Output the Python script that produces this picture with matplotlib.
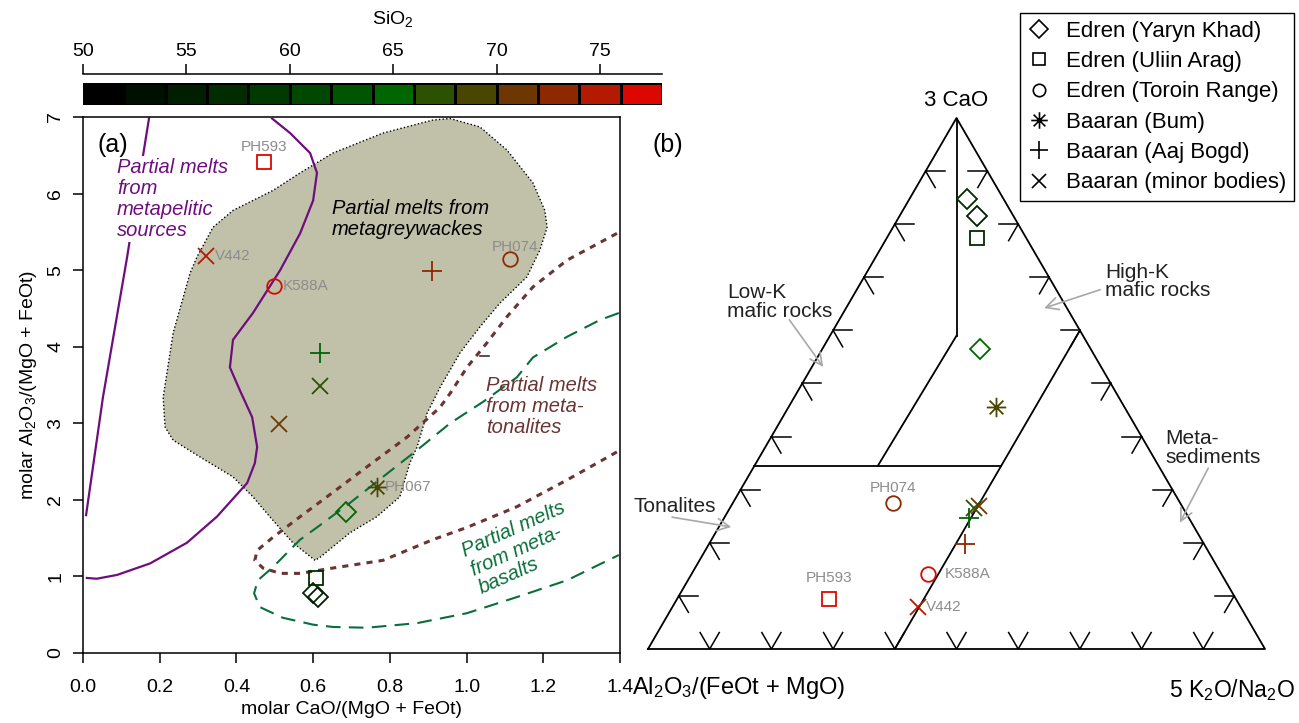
import numpy as np
import matplotlib
matplotlib.use("Agg")
import matplotlib.pyplot as plt
from matplotlib.colors import ListedColormap, BoundaryNorm
from matplotlib.lines import Line2D
from matplotlib.path import Path

plt.rcParams['font.family'] = ['Liberation Sans', 'DejaVu Sans']
plt.rcParams['mathtext.fontset'] = 'custom'
plt.rcParams['mathtext.rm'] = 'Liberation Sans'
plt.rcParams['mathtext.it'] = 'Liberation Sans:italic'
plt.rcParams['mathtext.bf'] = 'Liberation Sans:bold'

# --- SiO2 colour scale (2 wt% steps) ---
sio2_bounds = np.arange(50, 80, 2)
sio2_colors = ['#000000', '#001000', '#001e00', '#002c00', '#003a00', '#004800',
               '#005600', '#006600', '#2a5200', '#484600', '#6e3600', '#8e2800',
               '#b41a00', '#dc0800']
sio2_ticks = [50, 55, 60, 65, 70, 75]

# --- samples ---
group = ['yaryn', 'yaryn', 'uliin', 'yaryn', 'uliin', 'toroin', 'toroin',
         'bum', 'aaj', 'aaj', 'minor', 'minor', 'minor']
name = ['', '', '', '', 'PH593', 'PH074', 'K588A', 'PH067', '', '', '', '', 'V442']
sio2 = [56.5, 55.5, 57.0, 65.0, 77.0, 73.0, 77.0, 69.0, 73.0, 65.0, 67.0, 71.0, 75.0]
# molar CaO/(MgO + FeOt) and molar Al2O3/(MgO + FeOt)
cao_mf = [0.600, 0.613, 0.607, 0.686, 0.472, 1.113, 0.498, 0.766, 0.910, 0.618,
          0.618, 0.511, 0.321]
al_mf = [0.78, 0.73, 0.98, 1.84, 6.41, 5.14, 4.79, 2.17, 4.99, 3.92, 3.49, 2.99, 5.18]
# ternary fractions: Al2O3/(FeOt+MgO), 5 K2O/Na2O, 3 CaO
tern_al = [0.059, 0.060, 0.079, 0.180, 0.660, 0.466, 0.476, 0.208, 0.387, 0.356,
           0.339, 0.329, 0.523]
tern_k = [0.094, 0.125, 0.147, 0.255, 0.246, 0.259, 0.383, 0.336, 0.415, 0.397,
          0.395, 0.402, 0.398]
tern_ca = [0.847, 0.815, 0.774, 0.565, 0.094, 0.275, 0.141, 0.456, 0.198, 0.247,
           0.266, 0.269, 0.079]

group_names = ['yaryn', 'uliin', 'toroin', 'bum', 'aaj', 'minor']
group_labels = ['Edren (Yaryn Khad)', 'Edren (Uliin Arag)', 'Edren (Toroin Range)',
                'Baaran (Bum)', 'Baaran (Aaj Bogd)', 'Baaran (minor bodies)']

# --- source-rock fields, molar CaO/(MgO+FeOt) vs Al2O3/(MgO+FeOt) ---
greywacke_x = [0.605, 0.547, 0.487, 0.443, 0.391, 0.305, 0.235, 0.214, 0.209, 0.235,
               0.279, 0.297, 0.339, 0.391, 0.443, 0.495, 0.566, 0.652, 0.782, 0.912,
               0.957, 1.035, 1.105, 1.173, 1.204, 1.210, 1.191, 1.157, 1.087, 1.035,
               0.983, 0.931, 0.897, 0.871, 0.852, 0.826, 0.766, 0.696, 0.618]
greywacke_y = [1.21, 1.44, 1.78, 2.04, 2.30, 2.56, 2.78, 2.95, 3.34, 4.18,
               4.96, 5.17, 5.56, 5.78, 5.91, 6.04, 6.27, 6.53, 6.79, 6.96,
               6.98, 6.87, 6.57, 6.14, 5.78, 5.56, 5.26, 4.91, 4.57, 4.26,
               3.92, 3.47, 3.13, 2.69, 2.48, 2.04, 1.78, 1.57, 1.25]

pelite_a_x = [0.008, 0.052, 0.115, 0.156, 0.172]
pelite_a_y = [1.80, 3.34, 5.17, 6.48, 6.98]
pelite_b_x = [0.010, 0.036, 0.089, 0.175, 0.271, 0.349, 0.428, 0.448, 0.454, 0.441,
              0.409, 0.383, 0.391, 0.443, 0.514, 0.566, 0.600, 0.610, 0.592, 0.540,
              0.493]
pelite_b_y = [0.98, 0.97, 1.02, 1.17, 1.44, 1.78, 2.22, 2.48, 2.69, 3.08,
              3.43, 3.73, 4.09, 4.44, 5.00, 5.48, 5.91, 6.27, 6.53, 6.79,
              6.98]

tonalite_x = [1.392, 1.262, 1.173, 1.105, 1.053, 1.001, 0.957, 0.931, 0.845, 0.740,
              0.636, 0.566, 0.495, 0.454, 0.448, 0.469, 0.514, 0.566, 0.652, 0.782,
              0.912, 1.001, 1.131, 1.262, 1.397]
tonalite_y = [5.48, 5.13, 4.78, 4.39, 4.05, 3.73, 3.39, 3.21, 2.82, 2.43,
              2.04, 1.78, 1.51, 1.34, 1.21, 1.11, 1.04, 1.04, 1.11, 1.21,
              1.48, 1.64, 1.91, 2.26, 2.64]

basalt_x = [1.397, 1.348, 1.262, 1.173, 1.131, 1.043, 0.957, 0.871, 0.782, 0.696,
            0.610, 0.566, 0.495, 0.456, 0.446, 0.461, 0.521, 0.600, 0.652, 0.740,
            0.871, 1.001, 1.131, 1.262, 1.397]
basalt_y = [4.44, 4.35, 4.13, 3.86, 3.60, 3.28, 3.00, 2.65, 2.30, 1.96,
            1.64, 1.48, 1.12, 0.95, 0.78, 0.60, 0.46, 0.37, 0.34, 0.33,
            0.39, 0.52, 0.73, 0.95, 1.28]

# --- ternary field boundaries as (Al, K, Ca) end points ---
tern_lines = [
    [(0.0, 0.0, 1.0), (0.205, 0.205, 0.59)],
    [(0.205, 0.205, 0.59), (0.455, 0.2, 0.345)],
    [(0.655, 0.0, 0.345), (0.255, 0.4, 0.345)],
    [(0.6, 0.4, 0.0), (0.0, 0.4, 0.6)],
]
tern_ticks = np.arange(1, 10) / 10

PURPLE = '#6e0e7e'
BROWN = '#6b3333'
GREEN = '#0a6e3c'
GREY = '#8c8c8c'
ARROW = '#a8a8a8'

cmap = ListedColormap(sio2_colors)
norm = BoundaryNorm(sio2_bounds, cmap.N)

ast_verts, ast_codes = [], []
for ang in np.deg2rad([0, 45, 90, 135]):
    ast_verts += [(-np.cos(ang), -np.sin(ang)), (np.cos(ang), np.sin(ang))]
    ast_codes += [Path.MOVETO, Path.LINETO]
asterisk = Path(ast_verts, ast_codes)

marker_style = {
    'yaryn': dict(marker='D', ms=10.5),
    'uliin': dict(marker='s', ms=10),
    'toroin': dict(marker='o', ms=10.5),
    'bum': dict(marker=asterisk, ms=14),
    'aaj': dict(marker='+', ms=15),
    'minor': dict(marker='x', ms=12),
}

W, H = 1299, 723


def box(l, t, r, b):
    return [l / W, 1 - b / H, (r - l) / W, (b - t) / H]


def tern_xy(al, k, ca):
    al, k, ca = np.asarray(al), np.asarray(k), np.asarray(ca)
    return k + ca / 2, ca * np.sqrt(3) / 2


fig = plt.figure(figsize=(12.99, 7.23), dpi=100)

# ---------------- colour bar ----------------
ax_cb = fig.add_axes(box(83, 83, 662, 105))
ax_cb.pcolormesh(sio2_bounds, [0, 1], np.array([sio2_bounds[:-1] + 1]),
                 cmap=cmap, norm=norm, edgecolors='black', linewidth=0.8)
ax_cb.set_xlim(50, 78)
ax_cb.set_ylim(0, 1)
ax_cb.set_yticks([])
ax_cb.xaxis.tick_top()
ax_cb.set_xticks(sio2_ticks)
ax_cb.tick_params(axis='x', direction='out', length=7, width=1.1, labelsize=14, pad=3)
ax_cb.spines['top'].set_position(('outward', 6.5))
ax_cb.spines['top'].set_linewidth(1.1)
for s in ['left', 'right', 'bottom']:
    ax_cb.spines[s].set_visible(False)
fig.text(393 / W, 1 - 19 / H, 'SiO$_2$', ha='center', va='center', fontsize=14)

# ---------------- (a) molar ratios ----------------
ax = fig.add_axes(box(83, 117, 620, 653))
ax.plot(pelite_a_x, pelite_a_y, color=PURPLE, lw=1.6, zorder=1.5)
ax.text(0.089, 6.47, 'Partial melts\nfrom\nmetapelitic\nsources', color=PURPLE,
        fontsize=14.5, style='italic', va='top', ha='left', linespacing=1.15, zorder=2,
        bbox=dict(facecolor='white', edgecolor='none', pad=1))
ax.fill(greywacke_x, greywacke_y, facecolor='#c1c1aa', edgecolor='none', zorder=2.5)
ax.plot(greywacke_x + greywacke_x[:1], greywacke_y + greywacke_y[:1], color='black',
        lw=1.0, dashes=(1, 1.6), zorder=2.6)
ax.plot([1.035, 1.059], [3.88, 3.88], color='#333333', lw=1.2, zorder=2.6)
ax.plot(pelite_b_x, pelite_b_y, color=PURPLE, lw=1.6, zorder=3)
ax.plot(tonalite_x, tonalite_y, color=BROWN, lw=2.2, dashes=(2, 2), zorder=3)
ax.plot(basalt_x, basalt_y, color=GREEN, lw=1.5, dashes=(7, 4), zorder=3)

for i, g in enumerate(group):
    ax.plot(cao_mf[i], al_mf[i], linestyle='none', mfc='none', mew=1.3,
            mec=cmap(norm(sio2[i])), zorder=5, **marker_style[g])

a_offsets = {'PH593': (0, 11, 'center'), 'V442': (6, 0, 'left'),
             'K588A': (6, 0, 'left'), 'PH074': (4, 9, 'center'),
             'PH067': (6, 0, 'left')}
for i, n in enumerate(name):
    if n in a_offsets:
        dx, dy, ha = a_offsets[n]
        ax.annotate(n, (cao_mf[i], al_mf[i]), xytext=(dx, dy), textcoords='offset points',
                    ha=ha, va='center', fontsize=11, color=GREY, zorder=6)

ax.text(0.649, 5.93, 'Partial melts from\nmetagreywackes', color='black',
        fontsize=14.5, style='italic', va='top', ha='left', linespacing=1.15, zorder=4)
ax.text(1.051, 3.62, 'Partial melts\nfrom meta-\ntonalites', color=BROWN,
        fontsize=14.5, style='italic', va='top', ha='left', linespacing=1.15, zorder=4)
ax.text(1.145, 1.37, 'Partial melts\nfrom meta-\nbasalts', color=GREEN,
        fontsize=14.5, style='italic', va='center', ha='center', multialignment='left',
        rotation=24, linespacing=1.1, zorder=4)
ax.text(0.056, 0.948, '(a)', transform=ax.transAxes, fontsize=18, ha='center',
        va='center')

ax.set_xlim(0, 1.4)
ax.set_ylim(0, 7)
ax.set_xticks(np.arange(0, 1.41, 0.2))
ax.set_xticklabels([f'{v:.1f}' for v in np.arange(0, 1.41, 0.2)])
ax.set_yticks(range(8))
ax.tick_params(direction='out', length=7.5, width=1.1, labelsize=14)
ax.tick_params(axis='x', pad=11)
ax.tick_params(axis='y', labelrotation=90, pad=6)
for lab in ax.get_yticklabels():
    lab.set_va('center')
for s in ax.spines.values():
    s.set_linewidth(1.1)
ax.set_xlabel('molar CaO/(MgO + FeOt)', fontsize=14, labelpad=4)
ax.set_ylabel('molar Al$_2$O$_3$/(MgO + FeOt)', fontsize=14, labelpad=6)

# ---------------- (b) ternary ----------------
axt = fig.add_axes(box(648, 118, 1265, 649))
axt.set_xlim(0, 1)
axt.set_ylim(0, np.sqrt(3) / 2)
axt.axis('off')

h = np.sqrt(3) / 2
axt.plot([0, 1, 0.5, 0], [0, 0, h, 0], color='black', lw=1.3, clip_on=False)
for p, q in tern_lines:
    x, y = tern_xy(*zip(p, q))
    axt.plot(x, y, color='black', lw=1.3)

t = 0.031
for k in tern_ticks:
    # left edge: constant Ca and constant Al stubs
    x0, y0 = tern_xy(1 - k, 0, k)
    axt.plot([x0, x0 + t], [y0, y0], color='black', lw=1.1)
    axt.plot([x0, x0 + t / 2], [y0, y0 - t * h], color='black', lw=1.1)
    # right edge: constant Ca and constant K stubs
    x0, y0 = tern_xy(0, 1 - k, k)
    axt.plot([x0, x0 - t], [y0, y0], color='black', lw=1.1)
    axt.plot([x0, x0 - t / 2], [y0, y0 - t * h], color='black', lw=1.1)
    # base: constant Al and constant K stubs
    x0, y0 = tern_xy(1 - k, k, 0)
    axt.plot([x0, x0 - t / 2], [y0, y0 + t * h], color='black', lw=1.1)
    axt.plot([x0, x0 + t / 2], [y0, y0 + t * h], color='black', lw=1.1)

tx, ty = tern_xy(tern_al, tern_k, tern_ca)
for i, g in enumerate(group):
    axt.plot(tx[i], ty[i], linestyle='none', mfc='none', mew=1.3,
             mec=cmap(norm(sio2[i])), zorder=5, **marker_style[g])

b_offsets = {'PH074': (0, 11, 'center'), 'PH593': (0, 15, 'center'),
             'K588A': (12, 0, 'left'), 'V442': (6, 0, 'left')}
for i, n in enumerate(name):
    if n in b_offsets:
        dx, dy, ha = b_offsets[n]
        axt.annotate(n, (tx[i], ty[i]), xytext=(dx, dy), textcoords='offset points',
                     ha=ha, va='center', fontsize=11, color=GREY, zorder=6)

arrow_kw = dict(arrowstyle='->', color=ARROW, lw=1.2, mutation_scale=22,
                shrinkA=0, shrinkB=0)
axt.annotate('', xy=(0.284, 0.460), xytext=(0.229, 0.537), arrowprops=arrow_kw)
axt.annotate('', xy=(0.642, 0.556), xytext=(0.733, 0.586), arrowprops=arrow_kw)
axt.annotate('', xy=(0.862, 0.206), xytext=(0.908, 0.295), arrowprops=arrow_kw)
axt.annotate('', xy=(0.135, 0.199), xytext=(0.039, 0.215), arrowprops=arrow_kw)
note_kw = dict(fontsize=15, ha='left', va='center', linespacing=0.95,
               color='#222222', clip_on=False)
axt.text(0.128, 0.566, 'Low-K\nmafic rocks', **note_kw)
axt.text(0.741, 0.599, 'High-K\nmafic rocks', **note_kw)
axt.text(0.838, 0.328, 'Meta-\nsediments', **note_kw)
axt.text(-0.024, 0.232, 'Tonalites', **note_kw)

axt.text(0.5, 0.895, '3 CaO', fontsize=16, ha='center', va='center', clip_on=False)
axt.text(0.032, 0.822, '(b)', fontsize=18, ha='center', va='center')
axt.text(-0.026, -0.064, 'Al$_2$O$_3$/(FeOt + MgO)', fontsize=17, ha='left',
         va='center', clip_on=False)
axt.text(1.049, -0.067, '5 K$_2$O/Na$_2$O', fontsize=16.5, ha='right', va='center',
         clip_on=False)

# ---------------- legend ----------------
handles = [Line2D([], [], linestyle='none', mfc='none', mec='black', mew=1.2,
                  **dict(marker_style[g], ms=marker_style[g]['ms'] * 0.85))
           for g in group_names]
fig.legend(handles, group_labels, loc='upper right', bbox_to_anchor=(1294 / W, 1 - 13 / H),
           frameon=True, fancybox=False, edgecolor='black', framealpha=1, fontsize=16,
           handlelength=1.0, handletextpad=0.7, labelspacing=0.42, borderpad=0.35,
           borderaxespad=0)

fig.savefig('out.png', dpi=100)
